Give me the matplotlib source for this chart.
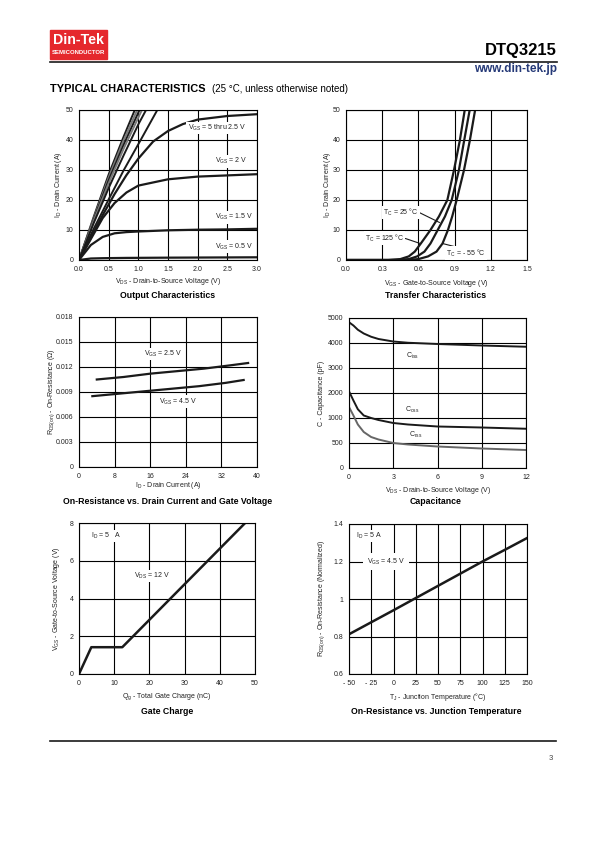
import numpy as np
import matplotlib
matplotlib.use("Agg")
import matplotlib.pyplot as plt

plt.rcParams['font.family'] = ['Liberation Sans', 'DejaVu Sans']
plt.rcParams['mathtext.default'] = 'regular'

W, H = 595, 842
BLACK = '#1a1a1a'
GRAY = '#7a7a7a'

# ---- output characteristics (VDS, ID) ----
# steep curves, VGS = 5 thru 2.5 V
out_steep_vds = [
    [0, 0.25, 0.5, 0.75, 0.94],
    [0, 0.25, 0.5, 0.75, 0.98],
    [0, 0.25, 0.5, 0.75, 1.02],
    [0, 0.25, 0.5, 0.75, 1.06],
    [0, 0.25, 0.5, 0.75, 1.0, 1.13],
    [0, 0.25, 0.5, 0.75, 1.0, 1.32],
]
out_steep_id = [
    [0, 14.5, 28.5, 41.0, 50],
    [0, 14.0, 27.5, 39.8, 50],
    [0, 13.6, 26.6, 38.3, 50],
    [0, 13.2, 25.6, 37.0, 50],
    [0, 12.4, 24.0, 34.8, 45.2, 50],
    [0, 10.5, 20.2, 29.8, 38.6, 50],
]
out_steep_colors = [BLACK, GRAY, BLACK, GRAY, BLACK, BLACK]
out_vds_25 = [0, 0.2, 0.4, 0.6, 0.8, 1.0, 1.25, 1.5, 1.75, 2.0, 2.5, 3.0]
out_id_25 = [0, 7.5, 15.0, 22.0, 28.3, 33.8, 39.5, 43.0, 45.3, 46.8, 48.0, 48.6]
out_vds = [0, 0.2, 0.4, 0.6, 0.8, 1.0, 1.5, 2.0, 2.5, 3.0]
out_id_20 = [0, 7.0, 14.0, 19.0, 22.5, 24.8, 26.9, 27.8, 28.2, 28.6]
out_id_15 = [0, 5.0, 7.7, 8.9, 9.3, 9.5, 9.9, 10.1, 10.2, 10.4]
out_id_05 = [0, 0.5, 0.6, 0.65, 0.7, 0.72, 0.78, 0.82, 0.86, 0.9]

# ---- transfer characteristics (VGS, ID) ----
tr_id = [0, 0, 0.3, 1.2, 2.8, 5.5, 10, 14.5, 20, 30, 40, 50]
tr_vgs_125 = [0.0, 0.35, 0.45, 0.52, 0.57, 0.62, 0.70, 0.77, 0.84, 0.895, 0.944, 0.984]
tr_vgs_25 = [0.0, 0.42, 0.52, 0.59, 0.65, 0.70, 0.76, 0.82, 0.876, 0.936, 0.98, 1.025]
tr_vgs_m55 = [0.0, 0.50, 0.60, 0.68, 0.75, 0.80, 0.845, 0.88, 0.917, 0.978, 1.027, 1.07]

# ---- on-resistance vs drain current ----
ron_id_25 = [4, 10, 16, 22, 28, 34, 38]
ron_25 = [0.0105, 0.0108, 0.0112, 0.0115, 0.0118, 0.0122, 0.01248]
ron_id_45 = [3, 9, 15, 21, 27, 33, 37]
ron_45 = [0.0085, 0.0088, 0.0091, 0.0094, 0.0097, 0.0101, 0.01044]

# ---- capacitance ----
cap_vds = [0, 0.3, 0.6, 1.0, 1.5, 2, 3, 4, 6, 9, 12]
ciss = [4830, 4700, 4530, 4380, 4250, 4160, 4060, 4010, 3960, 3900, 3850]
coss = [2070, 1700, 1350, 1100, 1000, 960, 900, 870, 830, 810, 785]
crss = [1440, 1100, 870, 720, 620, 570, 500, 470, 430, 390, 360]
cap_ticks = [0, 500, 1000, 2000, 3000, 4000, 5000]

# ---- gate charge ----
qg = [0, 3.5, 12.3, 47.2]
vgs_qg = [0, 1.42, 1.42, 8.0]

# ---- on-resistance vs junction temperature ----
tj = [-50, -25, 0, 25, 50, 75, 100, 125, 150]
ron_norm = [0.812, 0.876, 0.94, 1.005, 1.07, 1.135, 1.2, 1.262, 1.325]

fig = plt.figure(figsize=(W / 100, H / 100), dpi=100)


def fx(x):
    return x / W


def fy(y):
    return 1 - y / H


def make_ax(l, t, r, b):
    ax = fig.add_axes([fx(l), fy(b), (r - l) / W, (b - t) / H])
    ax.grid(True, color='black', lw=0.8)
    ax.set_axisbelow(True)
    for s in ax.spines.values():
        s.set_linewidth(0.8)
    ax.tick_params(length=0, labelsize=5, pad=4, colors='#222222')
    return ax


def title(x, y, s):
    fig.text(fx(x), fy(y), s, ha='center', va='center', fontsize=6.3,
             fontweight='bold', family=['Liberation Sans Narrow', 'Liberation Sans'])


lab = dict(fontsize=5, color='#222222')
box = dict(fc='white', ec='none', pad=0.8)

# header
fig.patches.append(plt.Rectangle((fx(50), fy(59)), 57 / W, 29 / H, transform=fig.transFigure,
                                 color='#e5282d', zorder=1))
fig.text(fx(78.5), fy(40.5), 'Din-Tek', color='white', fontsize=10.2, fontweight='bold',
         ha='center', va='center')
fig.text(fx(78.5), fy(53), 'SEMICONDUCTOR', color='white', fontsize=4.3, fontweight='bold',
         ha='center', va='center')
fig.add_artist(plt.Line2D([fx(50), fx(557)], [fy(62), fy(62)], color=BLACK, lw=1.2))
fig.text(fx(557), fy(51), 'DTQ3215', fontsize=12, fontweight='bold', ha='right', va='center')
fig.text(fx(557), fy(69), 'www.din-tek.jp', fontsize=8.5, fontweight='bold', color='#263a78',
         ha='right', va='center')
fig.text(fx(50), fy(89), 'TYPICAL CHARACTERISTICS', fontsize=7.9, fontweight='heavy',
         ha='left', va='center')
fig.text(fx(212), fy(89), '(25 °C, unless otherwise noted)', fontsize=7, ha='left', va='center')

# footer
fig.add_artist(plt.Line2D([fx(50), fx(556)], [fy(741), fy(741)], color=BLACK, lw=1.2))
fig.text(fx(553), fy(758), '3', fontsize=5.5, ha='right', va='center', color='#444444')

# 1. output characteristics
ax1 = make_ax(79, 110, 257, 260)
for vds, ids, c in zip(out_steep_vds, out_steep_id, out_steep_colors):
    ax1.plot(vds, ids, color=c, lw=1.4)
ax1.plot(out_vds_25, out_id_25, color=BLACK, lw=1.6)
ax1.plot(out_vds, out_id_20, color=BLACK, lw=1.6)
ax1.plot(out_vds, out_id_15, color=BLACK, lw=1.6)
ax1.plot(out_vds, out_id_05, color=BLACK, lw=1.6)
ax1.set_xlim(0, 3)
ax1.set_ylim(0, 50)
ax1.set_xticks(np.arange(0, 3.01, 0.5))
ax1.set_xticklabels(['0.0', '0.5', '1.0', '1.5', '2.0', '2.5', '3.0'])
ax1.set_yticks(range(0, 51, 10))
ax1.set_xlabel('$V_{DS}$ - Drain-to-Source Voltage (V)', labelpad=2.8, **lab)
ax1.set_ylabel('$I_D$ - Drain Current (A)', labelpad=0.8, **lab)
ax1.text(2.32, 44, '$V_{GS}$ = 5 thru 2.5 V', ha='center', va='center', bbox=box, **lab)
ax1.text(2.56, 32.9, '$V_{GS}$ = 2 V', ha='center', va='center', bbox=box, **lab)
ax1.text(2.61, 14.2, '$V_{GS}$ = 1.5 V', ha='center', va='center', bbox=box, **lab)
ax1.text(2.61, 4.5, '$V_{GS}$ = 0.5 V', ha='center', va='center', bbox=box, **lab)
title(168, 296, 'Output Characteristics')

# 2. transfer characteristics
ax2 = make_ax(346, 110, 527, 260)
ax2.plot(tr_vgs_125, tr_id, color=BLACK, lw=1.6)
ax2.plot(tr_vgs_25, tr_id, color=BLACK, lw=1.6)
ax2.plot(tr_vgs_m55, tr_id, color=BLACK, lw=1.6)
ax2.set_xlim(0, 1.5)
ax2.set_ylim(0, 50)
ax2.set_xticks(np.arange(0, 1.51, 0.3))
ax2.set_xticklabels(['0.0', '0.3', '0.6', '0.9', '1.2', '1.5'])
ax2.set_yticks(range(0, 51, 10))
ax2.set_xlabel('$V_{GS}$ - Gate-to-Source Voltage (V)', labelpad=4, **lab)
ax2.set_ylabel('$I_D$ - Drain Current (A)', labelpad=-0.6, **lab)
arr = dict(arrowstyle='-', color=BLACK, lw=0.8, shrinkA=0, shrinkB=0)
ax2.annotate('$T_C$ = 25 °C', xy=(0.775, 12.5), xytext=(0.31, 15.9), ha='left', va='center',
             arrowprops=dict(arr, relpos=(1, 0.5)), bbox=box, **lab)
ax2.annotate('$T_C$ = 125 °C', xy=(0.615, 5.5), xytext=(0.157, 7.3), ha='left', va='center',
             arrowprops=dict(arr, relpos=(1, 0.5)), bbox=box, **lab)
ax2.annotate('$T_C$ = - 55 °C', xy=(0.80, 5.5), xytext=(0.83, 2.3), ha='left', va='center',
             arrowprops=dict(arr, relpos=(0.3, 1)), bbox=box, **lab)
title(436, 296, 'Transfer Characteristics')

# 3. on-resistance vs drain current
ax3 = make_ax(79, 317, 257, 467)
ax3.plot(ron_id_25, ron_25, color=BLACK, lw=1.6)
ax3.plot(ron_id_45, ron_45, color=BLACK, lw=1.6)
ax3.set_xlim(0, 40)
ax3.set_ylim(0, 0.018)
ax3.set_xticks(range(0, 41, 8))
ax3.set_yticks(np.arange(0, 0.0181, 0.003))
ax3.set_yticklabels(['0', '0.003', '0.006', '0.009', '0.012', '0.015', '0.018'])
ax3.set_xlabel('$I_D$ - Drain Current (A)', labelpad=0.3, **lab)
ax3.set_ylabel('$R_{DS(on)}$ - On-Resistance (Ω)', labelpad=-1, **lab)
ax3.text(18.9, 0.01355, '$V_{GS}$ = 2.5 V', ha='center', va='center', bbox=box, **lab)
ax3.text(22.3, 0.00785, '$V_{GS}$ = 4.5 V', ha='center', va='center', bbox=box, **lab)
title(168, 502, 'On-Resistance vs. Drain Current and Gate Voltage')

# 4. capacitance
ax4 = make_ax(349, 318, 526, 468)
cap_pos = np.arange(len(cap_ticks))
ax4.set_yscale('function', functions=(lambda v: np.interp(v, cap_ticks, cap_pos),
                                      lambda p: np.interp(p, cap_pos, cap_ticks)))
ax4.plot(cap_vds, ciss, color=BLACK, lw=1.4)
ax4.plot(cap_vds, coss, color=BLACK, lw=1.4)
ax4.plot(cap_vds, crss, color='#666666', lw=1.4)
ax4.set_xlim(0, 12)
ax4.set_ylim(0, 5000)
ax4.set_xticks(range(0, 13, 3))
ax4.set_yticks(cap_ticks)
ax4.set_yticklabels([str(v) for v in cap_ticks])
ax4.yaxis.set_minor_locator(matplotlib.ticker.NullLocator())
ax4.set_xlabel('$V_{DS}$ - Drain-to-Source Voltage (V)', labelpad=3.4, **lab)
ax4.set_ylabel('C - Capacitance (pF)', labelpad=1.7, **lab)
ax4.text(4.3, 3480, '$C_{iss}$', ha='center', va='center', **lab)
ax4.text(4.3, 1320, '$C_{oss}$', ha='center', va='center', **lab)
ax4.text(4.5, 660, '$C_{rss}$', ha='center', va='center', **lab)
title(436, 502, 'Capacitance')

# 5. gate charge
ax5 = make_ax(79, 523, 255, 674)
ax5.plot(qg, vgs_qg, color=BLACK, lw=1.8)
ax5.set_xlim(0, 50)
ax5.set_ylim(0, 8)
ax5.set_xticks(range(0, 51, 10))
ax5.set_yticks(range(0, 9, 2))
ax5.set_xlabel('$Q_g$ - Total Gate Charge (nC)', labelpad=3.6, **lab)
ax5.set_ylabel('$V_{GS}$ - Gate-to-Source Voltage (V)', labelpad=5.4, **lab)
ax5.text(3.5, 7.3, '$I_D$ = 5   A', ha='left', va='center', bbox=box, **lab)
ax5.text(15.5, 5.2, '$V_{DS}$ = 12 V', ha='left', va='center', bbox=box, **lab)
title(167, 711, 'Gate Charge')

# 6. on-resistance vs junction temperature
ax6 = make_ax(349, 524, 527, 674)
ax6.plot(tj, ron_norm, color=BLACK, lw=1.8)
ax6.set_xlim(-50, 150)
ax6.set_ylim(0.6, 1.4)
ax6.set_xticks(range(-50, 151, 25))
ax6.set_xticklabels(['- 50', '- 25', '0', '25', '50', '75', '100', '125', '150'])
ax6.set_yticks([0.6, 0.8, 1.0, 1.2, 1.4])
ax6.set_yticklabels(['0.6', '0.8', '1', '1.2', '1.4'])
ax6.set_xlabel('$T_J$ - Junction Temperature (°C)', labelpad=3.2, **lab)
ax6.set_ylabel('$R_{DS(on)}$ - On-Resistance (Normalized)', labelpad=4.6, **lab)
ax6.text(-42, 1.335, '$I_D$ = 5 A', ha='left', va='center', bbox=box, **lab)
ax6.text(-30, 1.2, '$V_{GS}$ = 4.5 V', ha='left', va='center',
         bbox=dict(fc='white', ec='none', pad=2.5), **lab)
title(436, 711, 'On-Resistance vs. Junction Temperature')

fig.savefig('out.png', dpi=100)
